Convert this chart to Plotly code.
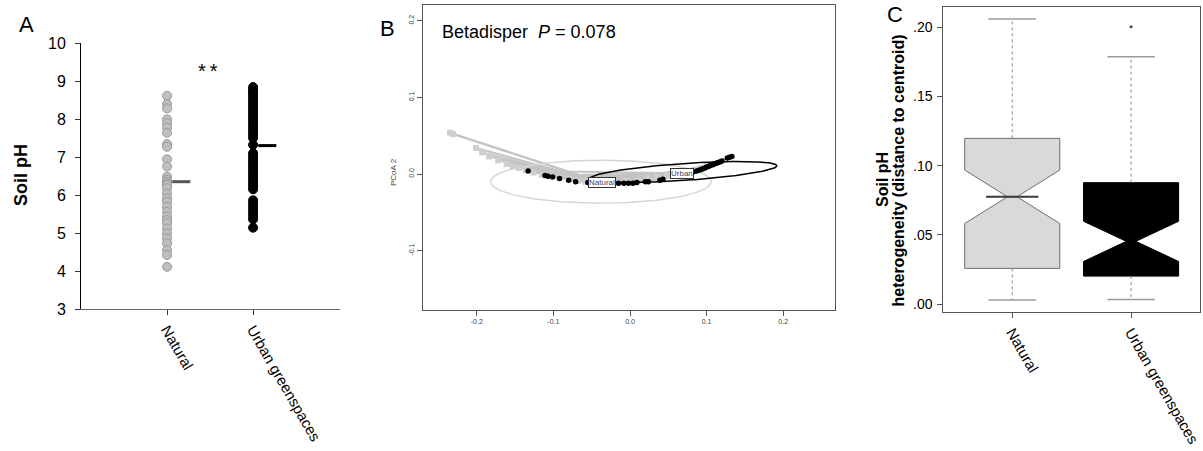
import numpy as np
import plotly.graph_objects as go

W, H = 1203, 451
FONT = "Liberation Sans, Arial, sans-serif"

# ---------------- Panel A: soil pH by land use ----------------
categories = ["Natural", "Urban greenspaces"]
natural_ph = [8.61, 8.39, 8.28, 7.99, 7.89, 7.77, 7.64, 7.34, 7.27, 6.94,
              6.75, 6.48, 6.40, 6.35, 6.30, 6.26, 6.18, 6.04, 5.91, 5.82,
              5.69, 5.56, 5.43, 5.34, 5.26, 5.12, 4.99, 4.86, 4.73, 4.55,
              4.42, 4.11]
urban_ph = [8.84, 8.78, 8.71, 8.66, 8.58, 8.52, 8.45, 8.37, 8.31, 8.24,
            8.16, 8.09, 8.02, 7.95, 7.87, 7.80, 7.72, 7.66, 7.58, 7.50,
            7.32, 7.10, 7.03, 6.95, 6.89, 6.81, 6.74, 6.66, 6.59, 6.52,
            6.44, 6.37, 6.29, 6.22, 6.15, 5.86, 5.78, 5.69, 5.61, 5.52,
            5.44, 5.36, 5.14]
group_means = [6.35, 7.30]

# ---------------- Panel B: betadisper ordination ----------------
nat_pc1 = [-0.235, -0.231, -0.201, -0.193, -0.184, -0.172, -0.161, -0.153,
           -0.145, -0.136, -0.126, -0.115, -0.104, -0.092, -0.080, -0.068,
           -0.058, -0.045, -0.030, -0.005, 0.010, 0.022, 0.035, 0.048, 0.060,
           0.072, 0.085, 0.093, 0.100]
nat_pc2 = [0.054, 0.052, 0.034, 0.028, 0.023, 0.018, 0.013, 0.010,
           0.008, 0.005, 0.002, -0.001, -0.003, -0.005, -0.007, -0.009,
           -0.010, -0.011, -0.011, -0.009, -0.008, -0.006, -0.004, -0.002,
           0.001, 0.003, 0.006, 0.008, 0.010]
urb_pc1 = [-0.133, -0.111, -0.107, -0.101, -0.092, -0.080, -0.071, -0.055,
           -0.040, -0.025, -0.015, -0.008, -0.002, 0.004, 0.009, 0.020,
           0.024, 0.039, 0.043, 0.059, 0.083, 0.087, 0.090, 0.093, 0.095,
           0.098, 0.100, 0.103, 0.105, 0.108, 0.110, 0.113, 0.115, 0.118,
           0.120, 0.127, 0.130, 0.133]
urb_pc2 = [0.004, -0.002, -0.003, -0.004, -0.006, -0.008, -0.010, -0.011,
           -0.012, -0.012, -0.012, -0.012, -0.012, -0.012, -0.011, -0.010,
           -0.010, -0.008, -0.007, -0.003, 0.003, 0.004, 0.005, 0.006, 0.007,
           0.008, 0.009, 0.010, 0.011, 0.012, 0.013, 0.014, 0.015, 0.016,
           0.017, 0.021, 0.022, 0.023]
centroid_labels = ["Natural", "Urban"]
centroid_pc1 = [-0.037, 0.0675]
centroid_pc2 = [-0.011, 0.001]
# dispersion ellipses: centre x, centre y, semi-axis a, semi-axis b, angle (deg)
ellipse_natural = (-0.038, -0.010, 0.144, 0.028, 0.0)
ellipse_urban = (0.070, 0.0026, 0.122, 0.011, 3.85)
betadisper_p = "0.078"

# ---------------- Panel C: distance to centroid ----------------
box_q1 = [0.0258, 0.0202]
box_median = [0.0775, 0.0453]
box_q3 = [0.1197, 0.0877]
box_notch = [0.0193, 0.0145]
whisker_low = [0.0029, 0.0034]
whisker_high = [0.2059, 0.1787]
outlier_urban = [0.2004]


def px_x(px):
    return px / W


def px_y(py):
    return 1 - py / H


fig = go.Figure()

# ---- A: strip of points + mean bars
fig.add_trace(go.Scatter(
    x=[1] * len(natural_ph), y=natural_ph, mode="markers",
    marker=dict(size=9, color="#bfbfbf", line=dict(color="#9a9a9a", width=1)),
    xaxis="x", yaxis="y", showlegend=False))
fig.add_trace(go.Scatter(
    x=[2] * len(urban_ph), y=urban_ph, mode="markers",
    marker=dict(size=9, color="black", line=dict(color="black", width=1)),
    xaxis="x", yaxis="y", showlegend=False))
for i, (col, m) in enumerate(zip(["#555555", "black"], group_means)):
    fig.add_trace(go.Scatter(
        x=[i + 1.06, i + 1.27], y=[m, m], mode="lines",
        line=dict(color=col, width=3), xaxis="x", yaxis="y", showlegend=False))

# ---- B: spider segments, ellipses, points
def spider(px, py, cx, cy):
    xs, ys = [], []
    for a, b in zip(px, py):
        xs += [cx, a, None]
        ys += [cy, b, None]
    return xs, ys


def ellipse_path(params, n=200):
    cx, cy, a, b, ang = params
    t = np.linspace(0, 2 * np.pi, n)
    th = np.deg2rad(ang)
    ex = cx + a * np.cos(t) * np.cos(th) - b * np.sin(t) * np.sin(th)
    ey = cy + a * np.cos(t) * np.sin(th) + b * np.sin(t) * np.cos(th)
    return ex, ey


sx, sy = spider(nat_pc1, nat_pc2, centroid_pc1[0], centroid_pc2[0])
fig.add_trace(go.Scatter(x=sx, y=sy, mode="lines",
                         line=dict(color="#c4c4c4", width=2),
                         xaxis="x2", yaxis="y2", showlegend=False))
sx, sy = spider(urb_pc1, urb_pc2, centroid_pc1[1], centroid_pc2[1])
fig.add_trace(go.Scatter(x=sx, y=sy, mode="lines",
                         line=dict(color="#c4c4c4", width=2),
                         xaxis="x2", yaxis="y2", showlegend=False))

ex, ey = ellipse_path(ellipse_natural)
fig.add_trace(go.Scatter(x=ex, y=ey, mode="lines",
                         line=dict(color="#d6d6d6", width=1.5),
                         xaxis="x2", yaxis="y2", showlegend=False))
fig.add_trace(go.Scatter(x=nat_pc1, y=nat_pc2, mode="markers",
                         marker=dict(symbol="square", size=6, color="#cfcfcf"),
                         xaxis="x2", yaxis="y2", showlegend=False))
ex, ey = ellipse_path(ellipse_urban)
fig.add_trace(go.Scatter(x=ex, y=ey, mode="lines",
                         line=dict(color="black", width=1.5),
                         xaxis="x2", yaxis="y2", showlegend=False))
fig.add_trace(go.Scatter(x=urb_pc1, y=urb_pc2, mode="markers",
                         marker=dict(size=5.5, color="black"),
                         xaxis="x2", yaxis="y2", showlegend=False))

# ---- C: notched boxes
box_fill = ["#d9d9d9", "black"]
box_line = ["#6e6e6e", "black"]
for i in range(2):
    pos = i + 1
    fig.add_trace(go.Box(
        x=[pos], q1=[box_q1[i]], median=[box_median[i]], q3=[box_q3[i]],
        lowerfence=[box_q1[i]], upperfence=[box_q3[i]],
        notched=True, notchspan=[box_notch[i]], notchwidth=0.45,
        width=0.8, whiskerwidth=0, fillcolor=box_fill[i],
        line=dict(color=box_line[i], width=1), boxpoints=False,
        xaxis="x3", yaxis="y3", showlegend=False))
    # dotted whiskers
    fig.add_trace(go.Scatter(
        x=[pos, pos, None, pos, pos],
        y=[box_q3[i], whisker_high[i], None, box_q1[i], whisker_low[i]],
        mode="lines", line=dict(color="#8a8a8a", width=1, dash="dot"),
        xaxis="x3", yaxis="y3", showlegend=False))
    # staples
    fig.add_trace(go.Scatter(
        x=[pos - 0.2, pos + 0.2, None, pos - 0.2, pos + 0.2],
        y=[whisker_high[i], whisker_high[i], None, whisker_low[i], whisker_low[i]],
        mode="lines", line=dict(color="#9a9a9a", width=1.5),
        xaxis="x3", yaxis="y3", showlegend=False))

fig.add_trace(go.Scatter(
    x=[1 - 0.4 * 0.55, 1 + 0.4 * 0.55], y=[box_median[0], box_median[0]],
    mode="lines", line=dict(color="#3a3a3a", width=2),
    xaxis="x3", yaxis="y3", showlegend=False))
fig.add_trace(go.Scatter(
    x=[2] * len(outlier_urban), y=outlier_urban, mode="markers",
    marker=dict(size=3, color="#444444"),
    xaxis="x3", yaxis="y3", showlegend=False))

# ---------------- layout / axes ----------------
tick_font_a = dict(family=FONT, size=16, color="black")
tick_font_c = dict(family=FONT, size=14, color="black")
cat_font = dict(family=FONT, size=15, color="black")
small_font = dict(family=FONT, size=7, color="#404040")
common = dict(showgrid=False, zeroline=False, automargin=False,
              ticklabeloverflow="allow")

layout = dict(
    template="none",
    width=W, height=H,
    margin=dict(l=0, r=0, t=0, b=0, pad=0),
    paper_bgcolor="white", plot_bgcolor="white",
    font=dict(family=FONT, color="black"),
    showlegend=False,
    xaxis=dict(domain=[px_x(81), px_x(340)], range=[0, 3.01],
               tickvals=[1, 2], ticktext=categories, tickangle=60,
               ticks="outside", ticklen=5, tickcolor="#333",
               showline=True, linecolor="#666", linewidth=1,
               tickfont=cat_font, anchor="y", **common),
    yaxis=dict(domain=[px_y(309), px_y(43)], range=[3, 10], dtick=1,
               ticks="outside", ticklen=5, tickcolor="#333",
               showline=True, linecolor="black", linewidth=1,
               tickfont=tick_font_a, ticklabelstandoff=6, anchor="x",
               **common),
    xaxis2=dict(domain=[px_x(422.7), px_x(835)], range=[-0.2706, 0.2676],
                tickvals=[-0.2, -0.1, 0.0, 0.1, 0.2],
                ticktext=["-0.2", "-0.1", "0.0", "0.1", "0.2"],
                ticks="outside", ticklen=5, tickcolor="#555",
                showline=True, mirror=True, linecolor="#555", linewidth=1,
                tickfont=small_font, anchor="y2", **common),
    yaxis2=dict(domain=[px_y(310), px_y(5)], range=[-0.1775, 0.2206],
                tickvals=[-0.1, 0.0, 0.1, 0.2],
                ticktext=["-0.1", "0.0", "0.1", "0.2"], tickangle=-90,
                ticks="outside", ticklen=5, tickcolor="#555",
                showline=True, mirror=True, linecolor="#555", linewidth=1,
                tickfont=small_font, anchor="x2", **common),
    xaxis3=dict(domain=[px_x(943.3), px_x(1200)], range=[0.42, 2.58],
                tickvals=[1, 2], ticktext=categories, tickangle=60,
                ticks="outside", ticklen=5, tickcolor="#555",
                showline=True, mirror=True, linecolor="#555", linewidth=1,
                tickfont=cat_font, anchor="y3", **common),
    yaxis3=dict(domain=[px_y(311.7), px_y(6.7)], range=[-0.0055, 0.2148],
                tickvals=[0.0, 0.05, 0.10, 0.15, 0.20],
                ticktext=[".00", ".05", ".10", ".15", ".20"],
                ticks="outside", ticklen=5, tickcolor="#555",
                showline=True, mirror=True, linecolor="#555", linewidth=1,
                tickfont=tick_font_c, ticklabelstandoff=2, anchor="x3",
                **common),
)
fig.update_layout(**layout)

ann = [
    dict(text="A", x=px_x(26), y=px_y(25), font=dict(size=22)),
    dict(text="B", x=px_x(387), y=px_y(28), font=dict(size=22)),
    dict(text="C", x=px_x(895), y=px_y(15), font=dict(size=22)),
    dict(text="<b>Soil pH</b>", x=px_x(21), y=px_y(175), textangle=-90,
         font=dict(size=18)),
    dict(text="*\u2009*", x=1.48, y=9.27, xref="x", yref="y",
         font=dict(size=20)),
    dict(text="<b>Soil pH</b>", x=px_x(882), y=px_y(180), textangle=-90,
         font=dict(size=16)),
    dict(text="<b>heterogeneity (distance to centroid)</b>",
         x=px_x(898), y=px_y(170.5), textangle=-90, font=dict(size=16)),
    dict(text="PCoA 2", x=px_x(393), y=px_y(172), textangle=-90,
         font=dict(size=8, color="#4d3c3c")),
    dict(text="Betadisper  <i>P</i> = " + betadisper_p, x=px_x(440),
         y=px_y(32), xanchor="left", font=dict(size=18)),
]
for a in ann:
    a.setdefault("xref", "paper")
    a.setdefault("yref", "paper")
    a.setdefault("xanchor", "center")
    a.setdefault("yanchor", "middle")
    a["showarrow"] = False
    fig.add_annotation(**a)

for lab, cx, cy in zip(centroid_labels, centroid_pc1, centroid_pc2):
    fig.add_annotation(text=lab, x=cx, y=cy, xref="x2", yref="y2",
                       showarrow=False, bgcolor="white", bordercolor="#333",
                       borderwidth=1, borderpad=0,
                       font=dict(size=8, color="#4a4060"))

fig.write_html("out.html")
